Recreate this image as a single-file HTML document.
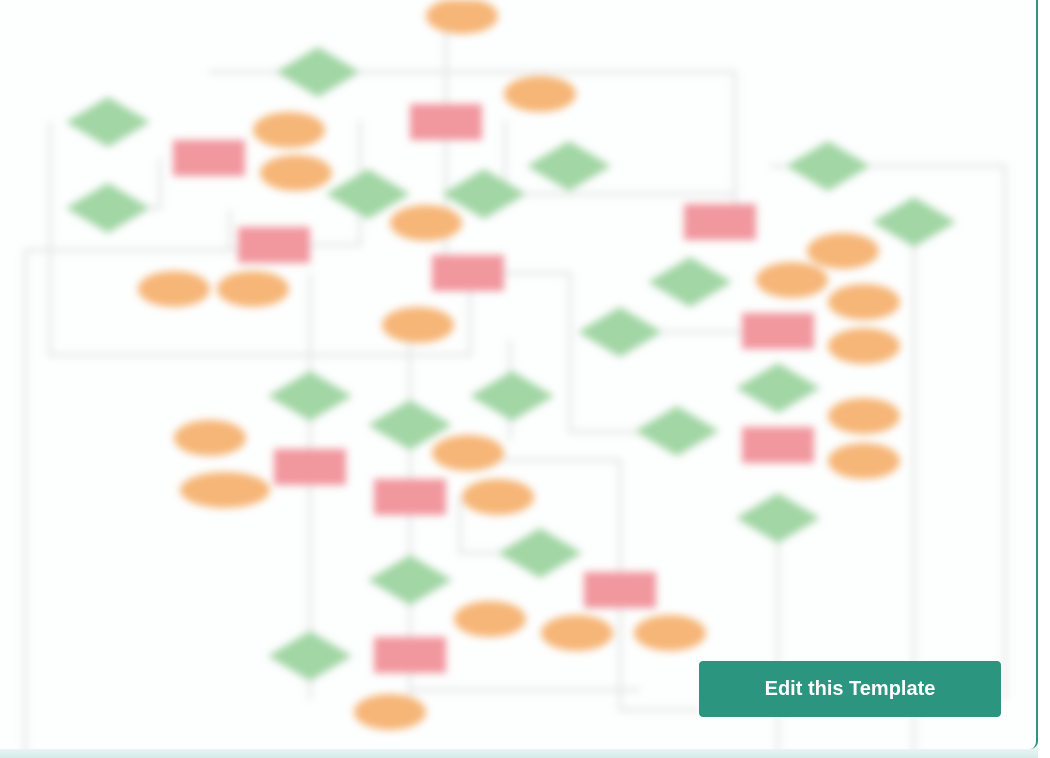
<!DOCTYPE html>
<html><head><meta charset="utf-8"><style>
html,body{margin:0;padding:0;background:#fff;width:1050px;height:758px;overflow:hidden;font-family:"Liberation Sans",sans-serif}
#card{position:absolute;left:0;top:0;width:1036px;height:749px;border-right:2px solid #2a9580;border-radius:0 0 8px 0;background:#fdfefe;overflow:hidden}
#shade{position:absolute;left:0;top:738px;width:1038px;height:20px;background:linear-gradient(#fff,#d5ece8)}
#btn{position:absolute;left:699px;top:661px;width:302px;height:56px;background:#2c9580;border-radius:4px;color:#fff;font-weight:bold;font-size:20px;display:flex;align-items:center;justify-content:center;font-family:"Liberation Sans",sans-serif}
svg{position:absolute;left:0;top:0;filter:blur(4px)}
</style></head><body>
<div id="shade"></div>
<div id="card">
<svg id="dg" width="1050" height="758"></svg>
</div>
<div id="btn">Edit this Template</div>
<script>
const ellipses=[[462,16,36],[540,94,36],[289,130,36],[296,173,36],[426,223,36],[174,289,36],[253,289,36],[418,325,36],[843,251,36],[792,280,36],[864,302,36],[864,346,36],[210,438,36],[225,490,45],[468,453,36],[498,497,36],[490,619,36],[577,633,36],[670,633,36],[390,712,36],[864,416,36],[864,461,36]];
const rects=[[209,158],[446,122],[274,245],[468,273],[720,222],[778,331],[310,467],[410,497],[620,590],[410,655],[778,445]];
const diamonds=[[318,72],[108,122],[108,208],[368,194],[484,194],[569,166],[828,166],[914,222],[690,282],[620,332],[310,396],[410,425],[512,396],[677,431],[778,388],[778,518],[540,553],[410,580],[310,656]];
const lines=[[[209,72],[735,72],[735,222]],[[50,122],[50,355],[470,355],[470,273]],[[25,250],[25,758]],[[25,250],[274,250]],[[446,30],[446,273]],[[310,273],[310,700]],[[410,325],[410,720]],[[468,273],[570,273],[570,432],[677,432]],[[620,332],[778,332]],[[770,166],[1005,166],[1005,700]],[[914,222],[914,758]],[[778,518],[778,758]],[[620,590],[620,710],[700,710]],[[460,460],[620,460],[620,590]],[[460,497],[460,553],[540,553]],[[510,340],[510,440]],[[410,690],[640,690]],[[360,120],[360,245],[274,245]],[[505,120],[505,194],[735,194]],[[160,158],[160,208],[108,208]],[[230,210],[230,250]]];
const svg=document.getElementById('dg');const NS='http://www.w3.org/2000/svg';
lines.forEach(pl=>{const p=document.createElementNS(NS,'polyline');


p.setAttribute('points',pl.map(q=>q.join(',')).join(' '));p.setAttribute('fill','none');p.setAttribute('stroke','#e2e4e4');p.setAttribute('stroke-width','3');svg.appendChild(p);});
ellipses.forEach(([x,y,rx])=>{const e=document.createElementNS(NS,'ellipse');


e.setAttribute('cx',x);e.setAttribute('cy',y);e.setAttribute('rx',rx);e.setAttribute('ry',18);e.setAttribute('fill','#f6b678');svg.appendChild(e);});
rects.forEach(([x,y])=>{const r=document.createElementNS(NS,'rect');


r.setAttribute('x',x-36);r.setAttribute('y',y-18);r.setAttribute('width',72);r.setAttribute('height',36);r.setAttribute('fill','#f1979e');svg.appendChild(r);});
diamonds.forEach(([x,y])=>{const d=document.createElementNS(NS,'polygon');


d.setAttribute('points',`${x-42},${y} ${x},${y-25} ${x+42},${y} ${x},${y+25}`);d.setAttribute('fill','#a2d6a5');svg.appendChild(d);});
</script>
</body></html>
